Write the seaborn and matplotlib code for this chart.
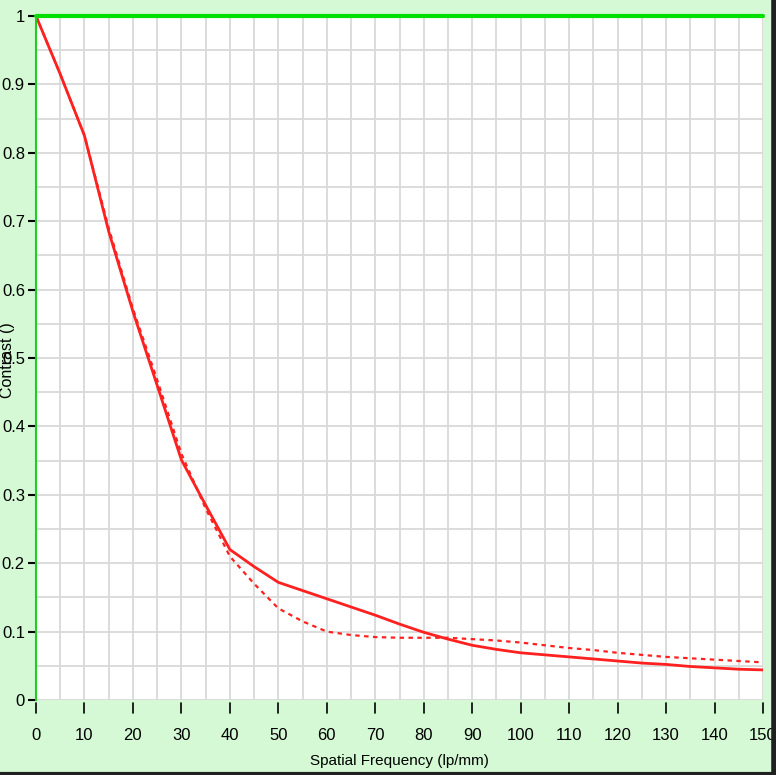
import matplotlib
matplotlib.use("Agg")
import matplotlib.pyplot as plt
import numpy as np
import pandas as pd
import seaborn as sns
from matplotlib.lines import Line2D

# spatial frequency (lp/mm) and MTF contrast
freq = [0, 5, 10, 15, 20, 25, 30, 35, 40, 45, 50, 55, 60, 65, 70, 75, 80,
        85, 90, 95, 100, 105, 110, 115, 120, 125, 130, 135, 140, 145, 150]
solid = [1.0, 0.915, 0.825, 0.685, 0.568, 0.46, 0.351, 0.285, 0.22, 0.195,
         0.172, 0.16, 0.148, 0.136, 0.124, 0.111, 0.099, 0.089, 0.08, 0.074,
         0.069, 0.066, 0.063, 0.06, 0.057, 0.054, 0.052, 0.049, 0.047,
         0.045, 0.044]
dotted = [1.0, 0.915, 0.825, 0.69, 0.572, 0.468, 0.36, 0.28, 0.21, 0.17,
          0.134, 0.115, 0.1, 0.095, 0.092, 0.091, 0.091, 0.091, 0.089, 0.087,
          0.084, 0.08, 0.076, 0.073, 0.069, 0.066, 0.063, 0.061, 0.059,
          0.057, 0.055]
diff_limit = [1.0, 1.0]
diff_freq = [0, 150]

x_ticks = list(range(0, 151, 10))
y_ticks = [0, 0.1, 0.2, 0.3, 0.4, 0.5, 0.6, 0.7, 0.8, 0.9, 1]
y_labels = ["0", "0.1", "0.2", "0.3", "0.4", "0.5", "0.6", "0.7", "0.8", "0.9", "1"]

BG = "#d4f9d4"
sns.set_theme(style="white")
plt.rcParams["font.family"] = ["Liberation Sans", "DejaVu Sans"]

fig = plt.figure(figsize=(7.76, 7.75), dpi=100, facecolor=BG)
ax = fig.add_axes([36 / 776, 75 / 775, 727 / 776, 684 / 775])
ax.set_facecolor("white")

df = pd.DataFrame({"freq": freq, "solid": solid, "dotted": dotted})
sns.lineplot(data=df, x="freq", y="solid", ax=ax, color="#ff2020", lw=2)
sns.lineplot(data=df, x="freq", y="dotted", ax=ax, color="#ff2020", lw=1.6,
             linestyle=(0, (2, 2)))
sns.lineplot(x=diff_freq, y=diff_limit, ax=ax, color="#00e000", lw=3,
             clip_on=False)

ax.set_xlim(0, 150)
ax.set_ylim(0, 1)
ax.set_xticks(np.arange(0, 151, 5), minor=True)
ax.set_yticks(np.arange(0, 1.001, 0.05), minor=True)
ax.grid(which="both", color="#d9d9d9", lw=1.3)
ax.set_axisbelow(True)

ax.set_xticks(x_ticks)
ax.set_xticklabels([str(t) for t in x_ticks])
ax.set_yticks(y_ticks)
ax.set_yticklabels(y_labels)
ax.tick_params(axis="x", which="major", bottom=True, direction="out",
               length=0, pad=20, labelsize=12, labelcolor="black")
ax.tick_params(axis="y", which="major", left=True, direction="out", length=6,
               width=1.5, color="black", pad=2, labelsize=12,
               labelcolor="black")
ax.tick_params(which="minor", length=0)

# x tick marks sit a few pixels below the plot area, detached from it
for t in x_ticks:
    ax.plot([t, t], [-0.005, -0.019], color="black", lw=1.2, clip_on=False)

for side in ["top", "right", "bottom"]:
    ax.spines[side].set_visible(False)
ax.spines["left"].set_color("#22cc22")
ax.spines["left"].set_linewidth(1.5)

ax.set_xlabel("Spatial Frequency (lp/mm)", fontsize=11, labelpad=8,
              color="black")
ax.set_ylabel("")
fig.text(8 / 776, 1 - 360 / 775, "Contrast ()", rotation=90, fontsize=11.5,
         ha="center", va="center", color="black")

# dark frame edges on right and bottom of the window
fig.add_artist(Line2D([773.5 / 776, 773.5 / 776], [0, 1], color="#202020",
                      lw=4, transform=fig.transFigure))
fig.add_artist(Line2D([0, 1], [1.5 / 775, 1.5 / 775], color="#202020",
                      lw=3, transform=fig.transFigure))

fig.savefig("out.png", dpi=100, facecolor=BG)
